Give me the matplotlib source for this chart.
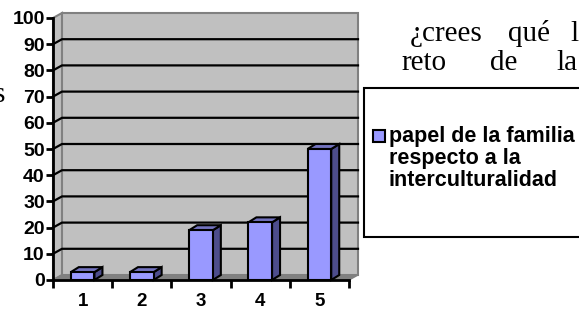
import matplotlib.pyplot as plt
from matplotlib.patches import Polygon, Rectangle

categorias = ["1", "2", "3", "4", "5"]
valores = [3, 3, 19, 22, 50]
ticks_y = list(range(0, 101, 10))
serie = "papel de la familia\nrespecto a la\ninterculturalidad"

W, H = 579, 310
fig = plt.figure(figsize=(W / 100, H / 100), dpi=100)
ax = fig.add_axes([53 / W, 1 - 280 / H, 296 / W, 262 / H])
ax.set_xlim(0.5, len(categorias) + 0.5)
ax.set_ylim(0, 100)

# pixels per data unit, used for the fake 3d depth
sx = 296 / len(categorias)
sy = 262 / 100


def shift(x, y, dx=9, dy=5):
    return (x + dx / sx, y + dy / sy)


x0, x1 = 0.5, len(categorias) + 0.5

# walls and floor
ax.add_patch(Polygon([(x0, 0), (x1, 0), shift(x1, 0), shift(x0, 0)],
                     closed=True, fc="#808080", ec="#808080", lw=1, zorder=1, clip_on=False))
ax.add_patch(Polygon([(x0, 0), (x0, 100), shift(x0, 100), shift(x0, 0)],
                     closed=True, fc="#c0c0c0", ec="#808080", lw=1.5, zorder=0, clip_on=False))
bx, by = shift(x0, 0)
ax.add_patch(Rectangle((bx, by), x1 - x0, 100, fc="#c0c0c0", ec="#808080",
                       lw=1.5, zorder=0, clip_on=False))

# gridlines on back and side wall
for v in ticks_y[1:-1]:
    px, py = shift(x0, v)
    qx, qy = shift(x1, v)
    ax.plot([x0, px, qx], [v, py, qy], color="black", lw=1.6, zorder=1, clip_on=False)

# bars
xs = list(range(1, len(categorias) + 1))
bw = 0.4
bars = ax.bar(xs, valores, width=bw, color="#9999ff", edgecolor="black", lw=1.5, zorder=4)
for x, v in zip(xs, valores):
    l, r = x - bw / 2, x + bw / 2
    ax.add_patch(Polygon([(r, 0), (r, v), shift(r, v, 8), shift(r, 0, 8)],
                         closed=True, fc="#4d4d8c", ec="black", lw=1.5, zorder=3, clip_on=False))
    ax.add_patch(Polygon([(l, v), (r, v), shift(r, v, 8), shift(l, v, 8)],
                         closed=True, fc="#7373bf", ec="black", lw=1.5, zorder=3, clip_on=False))

# axes styling
for s in ["top", "right"]:
    ax.spines[s].set_visible(False)
for s in ["left", "bottom"]:
    ax.spines[s].set_linewidth(2)
    ax.spines[s].set_zorder(5)
ax.set_yticks(ticks_y)
ax.set_yticklabels([str(t) for t in ticks_y], fontsize=14, fontweight="bold",
                   fontfamily="Liberation Sans")
ax.tick_params(axis="y", direction="out", length=5, width=2, pad=1)
ax.set_xticks(xs)
ax.set_xticklabels(categorias, fontsize=13.5, fontweight="bold", fontfamily="Liberation Sans")
ax.set_xticks([x - 0.5 for x in xs] + [x1], minor=True)
ax.tick_params(axis="x", which="major", length=0, pad=9)
ax.tick_params(axis="x", which="minor", direction="out", length=6, width=2)
ax.set_facecolor("none")

# legend box (marker aligned with the first line, like the original)
fig.patches.append(Rectangle((364 / W, 1 - 237 / H), 230 / W, 149 / H,
                             transform=fig.transFigure, fc="white", ec="black", lw=1.5))
fig.patches.append(Rectangle((373 / W, 1 - 142 / H), 12 / W, 12 / H, transform=fig.transFigure,
                             fc=bars.patches[0].get_facecolor(), ec="black", lw=1.5))
fig.text(389 / W, 1 - 126 / H, serie, va="top", ha="left", linespacing=1.05,
         family="Liberation Sans", weight="bold", size=15.5)

# surrounding document text (justified words)
serif = {"family": "Liberation Serif", "size": 21}
for word, xp in [("¿crees", 410), ("qué", 508), ("l", 570)]:
    fig.text(xp / W, 1 - 41 / H, word, fontdict=serif)
for word, xp in [("reto", 401), ("de", 490), ("la", 556)]:
    fig.text(xp / W, 1 - 70 / H, word, fontdict=serif)
fig.text(-6 / W, 1 - 102 / H, "s", fontdict=serif)

fig.savefig("out.png", dpi=100)
